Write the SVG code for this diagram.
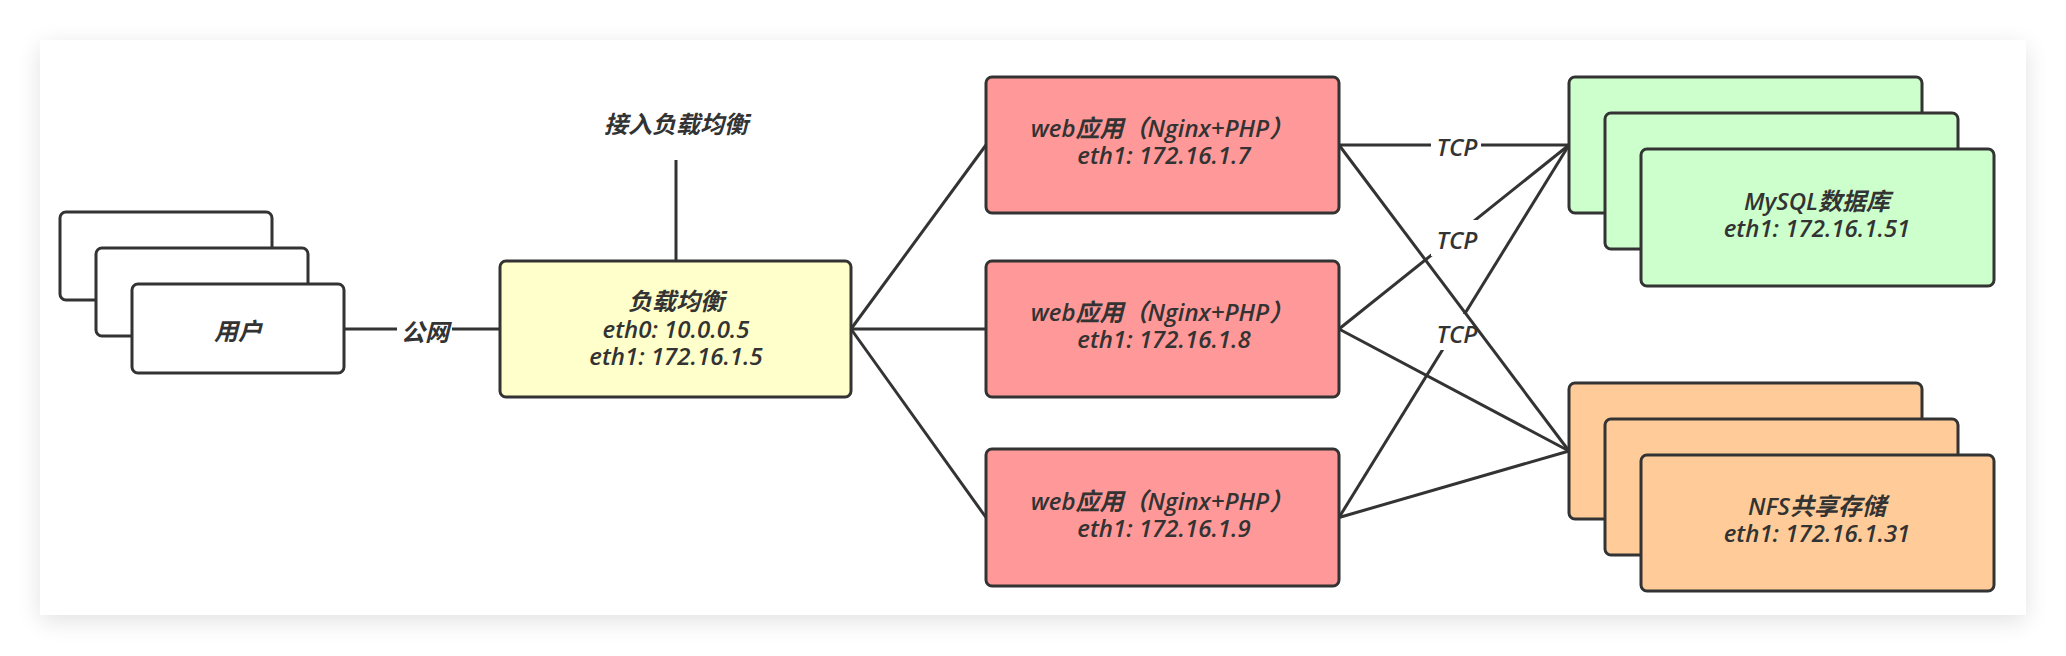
<svg xmlns="http://www.w3.org/2000/svg" width="2066" height="656" viewBox="0 0 2066 656">
<defs>
<filter id="shadow" x="-5%" y="-15%" width="110%" height="135%">
<feGaussianBlur in="SourceAlpha" stdDeviation="12"/>
<feOffset dx="0" dy="6" result="b"/>
<feComponentTransfer><feFuncA type="linear" slope="0.12"/></feComponentTransfer>
<feMerge><feMergeNode/><feMergeNode in="SourceGraphic"/></feMerge>
</filter>
<style>
.box{stroke:#333;stroke-width:3}
.user{fill:#ffffff}
.lb{fill:#ffffcc}
.web{fill:#ff9999}
.db{fill:#ccffcc}
.nfs{fill:#ffcc99}
.t{font-family:"Open Sans","Noto Sans CJK SC",sans-serif;font-style:italic;font-weight:600;font-size:24px;fill:#333;text-anchor:middle}
.edge{stroke:#333;stroke-width:3;fill:none}
.lbl{fill:#ffffff}
</style>
</defs>
<rect width="2066" height="656" fill="#ffffff"/>
<rect x="40" y="40" width="1986" height="575" fill="#ffffff" filter="url(#shadow)"/>

<g id="connectors">
<line class="edge" x1="344" y1="329" x2="500" y2="329"/>
<rect class="lbl" x="397" y="313" width="55" height="34"/>
<text class="t" x="425" y="341">公网</text>
<line class="edge" x1="676" y1="160" x2="676" y2="261"/>
<line class="edge" x1="851" y1="329" x2="986" y2="145"/>
<line class="edge" x1="851" y1="329" x2="986" y2="329"/>
<line class="edge" x1="851" y1="329" x2="986" y2="517.5"/>
<line class="edge" x1="1339" y1="145" x2="1569" y2="145"/>
<line class="edge" x1="1339" y1="329" x2="1569" y2="145"/>
<line class="edge" x1="1339" y1="517.5" x2="1569" y2="145"/>
<rect class="lbl" x="1431" y="128" width="50" height="36"/>
<text class="t" x="1457" y="156">TCP</text>
<rect class="lbl" x="1431" y="220" width="50" height="36"/>
<text class="t" x="1457" y="249">TCP</text>
<rect class="lbl" x="1431" y="314" width="50" height="36"/>
<text class="t" x="1457" y="343">TCP</text>
<line class="edge" x1="1339" y1="145" x2="1569" y2="451"/>
<line class="edge" x1="1339" y1="329" x2="1569" y2="451"/>
<line class="edge" x1="1339" y1="517.5" x2="1569" y2="451"/>
</g>

<g id="label-access">
<text class="t" x="676" y="133">接入负载均衡</text>
</g>

<g id="users">
<rect class="box user" x="60" y="212" width="212" height="88" rx="6"/>
<rect class="box user" x="96" y="248" width="212" height="88" rx="6"/>
<rect class="box user" x="132" y="284" width="212" height="89" rx="6"/>
<text class="t" x="238" y="340">用户</text>
</g>

<g id="lb">
<rect class="box lb" x="500" y="261" width="351" height="136" rx="6"/>
<text class="t" x="676" y="310">负载均衡</text>
<text class="t" x="676" y="338">eth0: 10.0.0.5</text>
<text class="t" x="676" y="365">eth1: 172.16.1.5</text>
</g>

<g id="web1">
<rect class="box web" x="986" y="77" width="353" height="136" rx="6"/>
<text class="t" x="1162" y="137">web应用（Nginx+PHP）</text>
<text class="t" x="1164" y="164">eth1: 172.16.1.7</text>
</g>
<g id="web2">
<rect class="box web" x="986" y="261" width="353" height="136" rx="6"/>
<text class="t" x="1162" y="321">web应用（Nginx+PHP）</text>
<text class="t" x="1164" y="348">eth1: 172.16.1.8</text>
</g>
<g id="web3">
<rect class="box web" x="986" y="449" width="353" height="137" rx="6"/>
<text class="t" x="1162" y="510">web应用（Nginx+PHP）</text>
<text class="t" x="1164" y="537">eth1: 172.16.1.9</text>
</g>

<g id="mysql">
<rect class="box db" x="1569" y="77" width="353" height="136" rx="6"/>
<rect class="box db" x="1605" y="113" width="353" height="136" rx="6"/>
<rect class="box db" x="1641" y="149" width="353" height="137" rx="6"/>
<text class="t" x="1817" y="210">MySQL数据库</text>
<text class="t" x="1817" y="237">eth1: 172.16.1.51</text>
</g>

<g id="nfs">
<rect class="box nfs" x="1569" y="383" width="353" height="136" rx="6"/>
<rect class="box nfs" x="1605" y="419" width="353" height="136" rx="6"/>
<rect class="box nfs" x="1641" y="455" width="353" height="136" rx="6"/>
<text class="t" x="1817" y="515">NFS共享存储</text>
<text class="t" x="1817" y="542">eth1: 172.16.1.31</text>
</g>
</svg>
